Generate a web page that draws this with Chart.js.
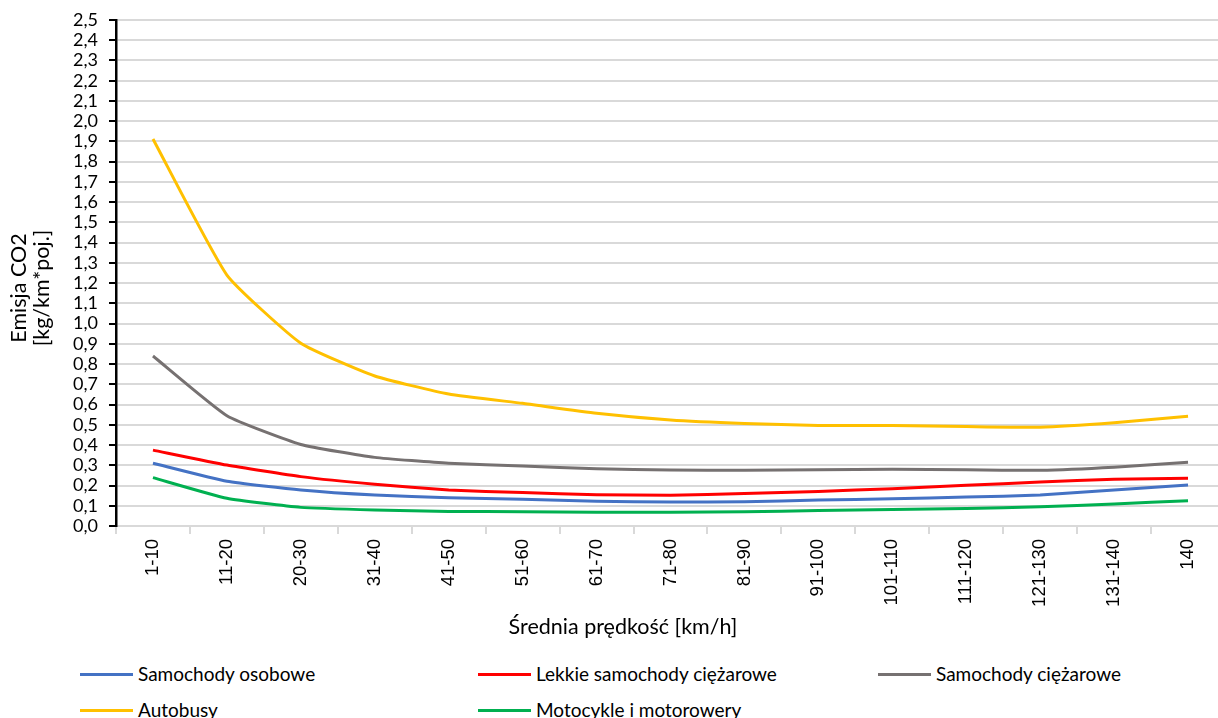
<!DOCTYPE html>
<html><head><meta charset="utf-8">
<script src="https://cdn.jsdelivr.net/npm/chart.js@4/dist/chart.umd.min.js"></script>
<style>
html,body{margin:0;padding:0;background:#fff;overflow:hidden}
#wrap{position:relative;width:1218px;height:718px;overflow:hidden;background:#fff}
#c{position:absolute;left:0;top:0}
.leg{position:absolute;display:flex;align-items:center;font:19px Lato;color:#000;white-space:nowrap;height:24px;line-height:24px}
.leg i{display:inline-block;width:53px;height:3px;margin-right:5px}
</style></head><body>
<div id="wrap"><canvas id="c" width="1225" height="650"></canvas><div id="legend"></div></div>
<script>
const categories = ['1-10','11-20','20-30','31-40','41-50','51-60','61-70','71-80','81-90','91-100','101-110','111-120','121-130','131-140','140'];
const samochodyOsobowe = [0.310,0.221,0.178,0.153,0.140,0.132,0.122,0.119,0.120,0.128,0.135,0.143,0.153,0.178,0.203];
const lekkieCiezarowe = [0.375,0.301,0.244,0.206,0.178,0.165,0.155,0.152,0.160,0.171,0.184,0.201,0.217,0.231,0.236];
const samochodyCiezarowe = [0.840,0.545,0.403,0.339,0.310,0.296,0.283,0.277,0.275,0.278,0.280,0.278,0.275,0.290,0.315];
const autobusy = [1.912,1.240,0.903,0.741,0.652,0.606,0.557,0.524,0.507,0.497,0.496,0.491,0.488,0.510,0.542];
const motocykle = [0.239,0.137,0.092,0.079,0.072,0.071,0.068,0.068,0.071,0.076,0.081,0.087,0.095,0.109,0.125];
const seriesNames = ['Samochody osobowe','Lekkie samochody ciężarowe','Samochody ciężarowe','Autobusy','Motocykle i motorowery'];
const seriesColors = ['#4472C4','#FF0000','#767171','#FFC000','#00B050'];
const yMin = 0, yMax = 2.5, yStep = 0.1;
const xTitle = 'Średnia prędkość [km/h]';
const yTitle = ['Emisja CO2','[kg/km*poj.]'];

const seriesData = [samochodyOsobowe, lekkieCiezarowe, samochodyCiezarowe, autobusy, motocykle];

const axisTitles = {
  id: 'axisTitles',
  afterDraw(chart) {
    const ctx = chart.ctx;
    ctx.save();
    ctx.fillStyle = '#000';
    ctx.font = '21.5px Lato';
    ctx.textAlign = 'center';
    ctx.textBaseline = 'middle';
    ctx.fillText(xTitle, 623, 627);
    ctx.translate(0, 288);
    ctx.rotate(-Math.PI / 2);
    ctx.fillText(yTitle[0], 0, 19);
    ctx.fillText(yTitle[1], 0, 42);
    ctx.restore();
  }
};

new Chart(document.getElementById('c'), {
  type: 'line',
  data: {
    labels: categories,
    datasets: seriesData.map((d, i) => ({
      label: seriesNames[i],
      data: d,
      borderColor: seriesColors[i],
      backgroundColor: seriesColors[i],
      borderWidth: 3,
      pointRadius: 0,
      pointHoverRadius: 0,
      tension: 0.15,
      fill: false,
      order: -i
    }))
  },
  options: {
    responsive: false,
    animation: false,
    events: [],
    layout: { padding: { top: 20, right: 0, bottom: 0, left: 0 } },
    plugins: { legend: { display: false }, tooltip: { enabled: false }, title: { display: false } },
    scales: {
      x: {
        type: 'category',
        offset: true,
        afterFit(s) { s.height = 124; },
        grid: { offset: true, drawOnChartArea: false, drawTicks: true, tickLength: 8, color: '#d9d9d9', tickColor: '#d9d9d9', lineWidth: 2 },
        border: { display: true, color: '#d9d9d9', width: 2 },
        ticks: { autoSkip: false, maxRotation: 90, minRotation: 90, padding: 5, color: '#000', font: { family: 'Liberation Sans', size: 18.5 } }
      },
      y: {
        min: yMin, max: yMax,
        afterFit(s) { s.width = 116; },
        grid: { color: '#d9d9d9', lineWidth: 2, tickColor: '#000', tickLength: 7, drawTicks: true },
        border: { display: true, color: '#000', width: 2.5 },
        ticks: {
          stepSize: yStep, autoSkip: false, padding: 11, color: '#000',
          font: { family: 'Lato', size: 18, lineHeight: 1 },
          callback: v => Number(v).toFixed(1).replace('.', ',')
        }
      }
    }
  },
  plugins: [axisTitles]
});

const legendPos = [[80,662],[478,662],[878,662],[80,698],[478,698]];
const legend = document.getElementById('legend');
seriesNames.forEach((n, i) => {
  const d = document.createElement('div');
  d.className = 'leg';
  d.style.left = legendPos[i][0] + 'px';
  d.style.top = legendPos[i][1] + 'px';
  const sw = document.createElement('i');
  sw.style.background = seriesColors[i];
  d.appendChild(sw);
  d.appendChild(document.createTextNode(n));
  legend.appendChild(d);
});
</script>
</body></html>
